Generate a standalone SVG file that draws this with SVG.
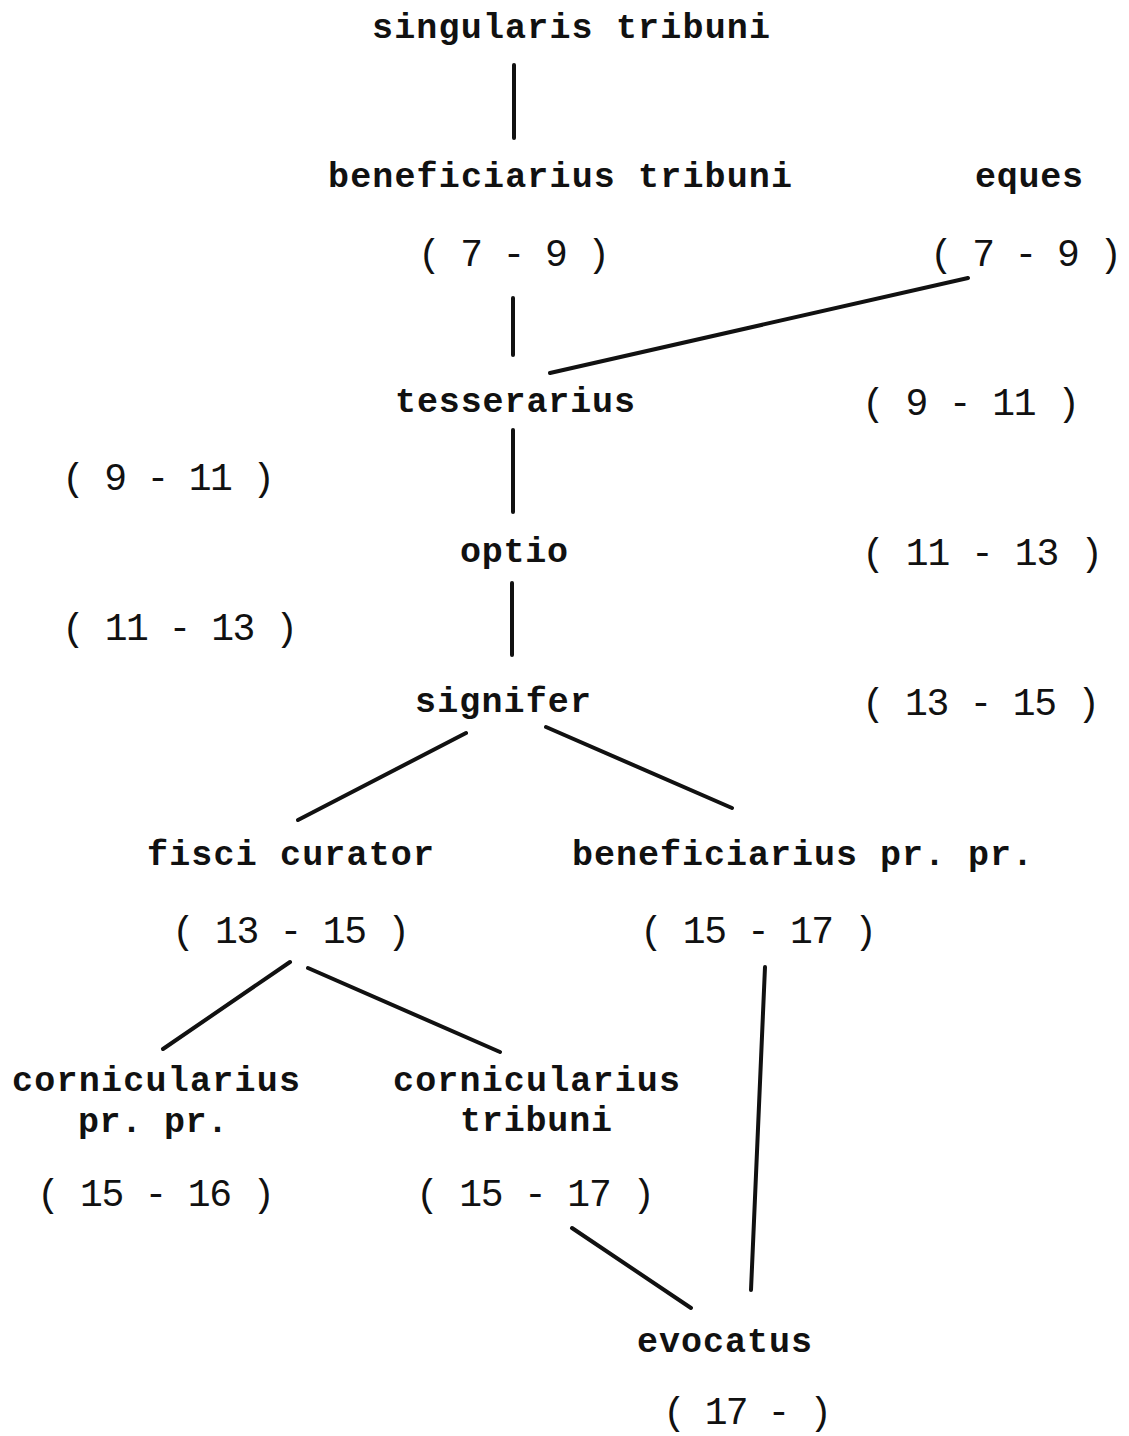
<svg xmlns="http://www.w3.org/2000/svg" width="1129" height="1436" viewBox="0 0 1129 1436">
<style>
.t{font-family:"Liberation Mono","DejaVu Sans Mono",monospace;font-size:35px;font-weight:bold;fill:#111}
.n{font-family:"Liberation Mono","DejaVu Sans Mono",monospace;font-size:38px;fill:#111}
.c line{stroke:#111;stroke-width:4;stroke-linecap:round}
</style>
<rect width="1129" height="1436" fill="#fff"/>
<g class="c" id="connectors">
<line x1="514" y1="65" x2="514" y2="138"/>
<line x1="513" y1="298" x2="513" y2="355"/>
<line x1="968" y1="278" x2="550" y2="373"/>
<line x1="513" y1="430" x2="513" y2="512"/>
<line x1="512" y1="583" x2="512" y2="655"/>
<line x1="466" y1="733" x2="298" y2="820"/>
<line x1="546" y1="727" x2="732" y2="808"/>
<line x1="290" y1="962" x2="163" y2="1049"/>
<line x1="308" y1="968" x2="500" y2="1052"/>
<line x1="765" y1="967" x2="751" y2="1290"/>
<line x1="572" y1="1228" x2="691" y2="1308"/>
</g>
<g id="singularis"><text class="t" x="372" y="38" textLength="398" lengthAdjust="spacing">singularis tribuni</text></g>
<g id="beneficiarius_tribuni"><text class="t" x="328" y="187" textLength="464" lengthAdjust="spacing">beneficiarius tribuni</text><text class="n" x="418" y="266" textLength="192" lengthAdjust="spacing">( 7 - 9 )</text></g>
<g id="eques"><text class="t" x="975" y="187" textLength="108" lengthAdjust="spacing">eques</text><text class="n" x="930" y="266" textLength="192" lengthAdjust="spacing">( 7 - 9 )</text></g>
<g id="tesserarius"><text class="t" x="395" y="412" textLength="240" lengthAdjust="spacing">tesserarius</text><text class="n" x="862" y="415" textLength="218" lengthAdjust="spacing">( 9 - 11 )</text><text class="n" x="62" y="490" textLength="213" lengthAdjust="spacing">( 9 - 11 )</text></g>
<g id="optio"><text class="t" x="460" y="562" textLength="108" lengthAdjust="spacing">optio</text><text class="n" x="862" y="565" textLength="241" lengthAdjust="spacing">( 11 - 13 )</text><text class="n" x="62" y="640" textLength="236" lengthAdjust="spacing">( 11 - 13 )</text></g>
<g id="signifer"><text class="t" x="415" y="712" textLength="176" lengthAdjust="spacing">signifer</text><text class="n" x="862" y="715" textLength="238" lengthAdjust="spacing">( 13 - 15 )</text></g>
<g id="fisci_curator"><text class="t" x="147" y="865" textLength="287" lengthAdjust="spacing">fisci curator</text><text class="n" x="172" y="943" textLength="238" lengthAdjust="spacing">( 13 - 15 )</text></g>
<g id="beneficiarius_prpr"><text class="t" x="572" y="865" textLength="461" lengthAdjust="spacing">beneficiarius pr. pr.</text><text class="n" x="640" y="943" textLength="237" lengthAdjust="spacing">( 15 - 17 )</text></g>
<g id="cornicularius_prpr"><text class="t" x="12" y="1091" textLength="288" lengthAdjust="spacing">cornicularius</text><text class="t" x="78" y="1132" textLength="150" lengthAdjust="spacing">pr. pr.</text><text class="n" x="37" y="1206" textLength="238" lengthAdjust="spacing">( 15 - 16 )</text></g>
<g id="cornicularius_tribuni"><text class="t" x="393" y="1091" textLength="287" lengthAdjust="spacing">cornicularius</text><text class="t" x="460" y="1131" textLength="152" lengthAdjust="spacing">tribuni</text><text class="n" x="416" y="1206" textLength="239" lengthAdjust="spacing">( 15 - 17 )</text></g>
<g id="evocatus"><text class="t" x="637" y="1352" textLength="175" lengthAdjust="spacing">evocatus</text><text class="n" x="663" y="1424" textLength="169" lengthAdjust="spacing">( 17 - )</text></g>
</svg>
